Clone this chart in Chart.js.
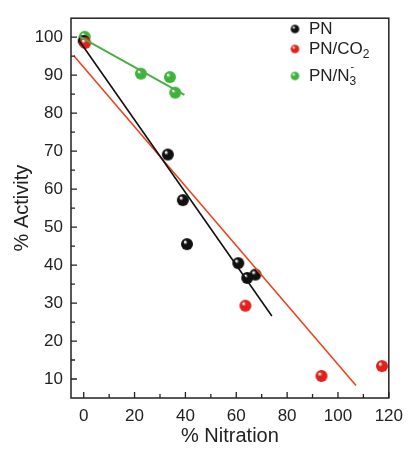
<!DOCTYPE html>
<html>
<head>
<meta charset="utf-8">
<script src="https://cdn.jsdelivr.net/npm/chart.js@4/dist/chart.umd.min.js"></script>
<style>
	html, body { margin: 0; padding: 0; background: #fff; }
	#wrap { width: 411px; height: 449px; }
</style>
</head>
<body>
<div id="wrap"><canvas id="activityChart" width="411" height="449"></canvas></div>
<script>
// values
var pnX = [0, 33.1, 39.0, 40.6, 60.8, 64.3, 67.5];
var pnY = [99.0, 69.1, 57.1, 45.5, 40.5, 36.6, 37.5];
var co2X = [0.6, 63.6, 93.5, 117.3];
var co2Y = [98.5, 29.3, 10.8, 13.4];
var n3X = [0.4, 22.5, 33.9, 36.0];
var n3Y = [100.1, 90.4, 89.5, 85.4];

// fit lines (end points)
var pnFitX = [-1.9, 74.0];
var pnFitY = [99.2, 26.6];
var co2FitX = [-3.9, 107.1];
var co2FitY = [95.1, 8.3];
var n3FitX = [-1.9, 39.6];
var n3FitY = [100.3, 84.8];

var xTicks = [0, 20, 40, 60, 80, 100, 120];
var yTicks = [10, 20, 30, 40, 50, 60, 70, 80, 90, 100];

var colBlack = "#111111";
var colRed = "#e3201b";
var colGreen = "#3db33a";

function toPoints(xs, ys) {
	var pts = [];
	for (var i = 0; i < xs.length; i++) {
		pts.push({ x: xs[i], y: ys[i] });
	}
	return pts;
}

// shaded ball markers
function ball(color, r) {
	var c = document.createElement("canvas");
	var s = Math.ceil(r * 2 + 2);
	c.width = s;
	c.height = s;
	var g = c.getContext("2d");
	var m = s / 2;
	var grad = g.createRadialGradient(m - r * 0.35, m - r * 0.4, r * 0.1, m, m, r);
	grad.addColorStop(0, "#ffffff");
	grad.addColorStop(0.3, color);
	grad.addColorStop(1, color);
	g.beginPath();
	g.arc(m, m, r, 0, Math.PI * 2);
	g.fillStyle = grad;
	g.fill();
	return c;
}

var legendItems = [
	{ parts: [["PN", ""]], color: colBlack },
	{ parts: [["PN/CO", ""], ["2", "sub"]], color: colRed },
	{ parts: [["PN/N", ""], ["3", "sub"], ["-", "sup"]], color: colGreen }
];

var framePlugin = {
	id: "frame",
	afterDatasetsDraw: function(chart) {
		var ctx = chart.ctx;
		var a = chart.chartArea;
		var xs = chart.scales.x, ys = chart.scales.y;
		ctx.save();
		ctx.strokeStyle = "#222";
		ctx.lineWidth = 1.5;
		ctx.strokeRect(a.left, a.top, a.right - a.left, a.bottom - a.top);
		ctx.lineWidth = 1.3;
		ctx.beginPath();
		// x ticks (inward), majors every 20, minors every 10
		for (var v = 0; v <= 120; v += 10) {
			var px = xs.getPixelForValue(v);
			var len = (v % 20 == 0) ? 6 : 4;
			ctx.moveTo(px, a.bottom);
			ctx.lineTo(px, a.bottom - len);
		}
		// y ticks (inward), majors every 10, minors every 5
		for (var w = 10; w <= 100; w += 5) {
			var py = ys.getPixelForValue(w);
			var len2 = (w % 10 == 0) ? 6 : 4;
			ctx.moveTo(a.left, py);
			ctx.lineTo(a.left + len2, py);
		}
		ctx.stroke();

		// legend
		var lx = 295, rows = [29, 49, 76];
		for (var i = 0; i < legendItems.length; i++) {
			var it = legendItems[i];
			var img = ball(it.color, 4.3);
			ctx.drawImage(img, lx - img.width / 2, rows[i] - img.height / 2);
			var tx = 309;
			ctx.fillStyle = "#222";
			ctx.textBaseline = "middle";
			for (var j = 0; j < it.parts.length; j++) {
				var p = it.parts[j];
				if (p[1] == "") {
					ctx.font = "17px 'Liberation Sans', Arial, sans-serif";
					ctx.fillText(p[0], tx, rows[i]);
					tx += ctx.measureText(p[0]).width;
				} else if (p[1] == "sub") {
					ctx.font = "12px 'Liberation Sans', Arial, sans-serif";
					ctx.fillText(p[0], tx, rows[i] + 6);
				} else {
					ctx.font = "11px 'Liberation Sans', Arial, sans-serif";
					ctx.fillText(p[0], tx + 1, rows[i] - 9);
				}
			}
		}
		ctx.restore();
	}
};

var markerR = 6;

new Chart(document.getElementById("activityChart").getContext("2d"), {
	type: "scatter",
	data: {
		datasets: [
			{ label: "PN fit", data: toPoints(pnFitX, pnFitY), showLine: true, borderColor: colBlack, borderWidth: 1.6, pointRadius: 0 },
			{ label: "PN/CO2 fit", data: toPoints(co2FitX, co2FitY), showLine: true, borderColor: "#e8461e", borderWidth: 1.6, pointRadius: 0 },
			{ label: "PN/N3 fit", data: toPoints(n3FitX, n3FitY), showLine: true, borderColor: "#4cae45", borderWidth: 2, pointRadius: 0 },
			{ label: "PN/CO2", data: toPoints(co2X, co2Y), pointStyle: ball(colRed, markerR), pointRadius: markerR },
			{ label: "PN", data: toPoints(pnX, pnY), pointStyle: ball(colBlack, markerR), pointRadius: markerR },
			{ label: "PN/N3-", data: toPoints(n3X, n3Y), pointStyle: ball(colGreen, markerR), pointRadius: markerR }
		]
	},
	options: {
		responsive: false,
		animation: false,
		devicePixelRatio: 1,
		layout: { padding: { top: 9, right: 18, left: 0, bottom: 0 } },
		plugins: { legend: { display: false }, tooltip: { enabled: false } },
		scales: {
			x: {
				type: "linear",
				min: -5,
				max: 120,
				grid: { display: false, drawTicks: false },
				border: { display: false },
				afterBuildTicks: function(s) { s.ticks = xTicks.map(function(v) { return { value: v }; }); },
				afterFit: function(s) { s.height = 51; },
				ticks: { padding: 8, color: "#222", font: { family: "'Liberation Sans', Arial, sans-serif", size: 17 } },
				title: { display: true, text: "% Nitration", color: "#222", padding: { top: 0, bottom: 1 }, font: { family: "'Liberation Sans', Arial, sans-serif", size: 20 } }
			},
			y: {
				type: "linear",
				min: 5,
				max: 105,
				grid: { display: false, drawTicks: false },
				border: { display: false },
				afterBuildTicks: function(s) { s.ticks = yTicks.map(function(v) { return { value: v }; }); },
				afterFit: function(s) { s.width = 71; },
				ticks: { padding: 8, color: "#222", font: { family: "'Liberation Sans', Arial, sans-serif", size: 17 } },
				title: { display: true, text: "% Activity", color: "#222", padding: { top: 10, bottom: 0 }, font: { family: "'Liberation Sans', Arial, sans-serif", size: 20 } }
			}
		}
	},
	plugins: [framePlugin]
});
</script>
</body>
</html>
